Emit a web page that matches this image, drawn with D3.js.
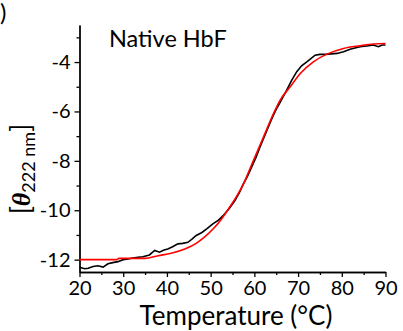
<!DOCTYPE html>
<html>
<head>
<meta charset="utf-8">
<script src="https://cdn.jsdelivr.net/npm/d3@7"></script>
<style>
  body { margin: 0; background: #fff; }
  svg { display: block; font-family: Lato, "Open Sans", sans-serif; }
</style>
</head>
<body>
<svg id="chart" width="403" height="331"></svg>
<script>
const dataTemp = [20, 21.2, 22, 23.1, 24.2, 25.4, 26.5, 27.6, 28.8, 30, 31.1, 32.2, 33.4, 34.5, 36, 37.2, 38.3, 39.2, 40.2, 41.3, 42.5, 43.6, 44.8, 45.8, 46.7, 48, 49.1, 50.5, 51.8, 52.9, 54.3, 55.6, 56.6, 57.5, 58.5, 59.4, 60.4, 61.3, 62.2, 63.2, 64.1, 65.1, 66.3, 67.4, 68.5, 69.7, 70.8, 72, 73.9, 75, 76.2, 77.6, 78.9, 80.4, 81.9, 83, 84.2, 85.7, 87.2, 88.4, 89.2, 90];
const dataTheta = [-12.31, -12.37, -12.35, -12.28, -12.25, -12.3, -12.17, -12.12, -12.08, -12.0, -11.97, -11.93, -11.9, -11.88, -11.81, -11.63, -11.7, -11.62, -11.57, -11.48, -11.36, -11.34, -11.3, -11.16, -11.02, -10.9, -10.75, -10.55, -10.4, -10.21, -9.92, -9.6, -9.28, -8.93, -8.6, -8.25, -7.85, -7.44, -7.05, -6.63, -6.25, -5.88, -5.5, -5.14, -4.75, -4.39, -4.15, -3.99, -3.72, -3.69, -3.69, -3.67, -3.65, -3.58, -3.48, -3.43, -3.38, -3.35, -3.31, -3.38, -3.31, -3.31];

const fitTemp = [20, 24, 28.5, 29, 32, 34.9, 38, 41, 44.1, 46.7, 48.5, 50.6, 52.5, 54.4, 56, 57.5, 59.8, 62.1, 64.4, 65.9, 68.2, 70.5, 73.5, 76.6, 80.4, 84.2, 87.2, 90];
const fitTheta = [-12.0, -12.0, -12.0, -11.95, -11.95, -11.95, -11.84, -11.74, -11.57, -11.34, -11.1, -10.75, -10.35, -9.86, -9.42, -8.93, -7.98, -7.03, -6.08, -5.54, -5.0, -4.46, -3.99, -3.68, -3.45, -3.34, -3.27, -3.25];

const xTicks = [20, 30, 40, 50, 60, 70, 80, 90];
const xMinor = [25, 35, 45, 55, 65, 75, 85];
const yTicks = [-12, -10, -8, -6, -4];
const yMinor = [-11, -9, -7, -5, -3];

const svg = d3.select("#chart");

let xScale = d3.scaleLinear().domain([20, 90]).range([79.5, 385.5]);
let yScale = d3.scaleLinear().domain([-12.5, -2.5]).range([272, 25]);

// axes
svg
  .append("g")
  .attr("transform", "translate(0, 272)")
  .call(d3.axisBottom(xScale).tickValues(xTicks).tickSize(5).tickPadding(4).tickSizeOuter(0))
  .call((g) => g.selectAll("text").attr("font-size", 20).attr("font-family", "Lato").attr("fill", "#000"));
svg
  .append("g")
  .attr("transform", "translate(0, 272)")
  .call(d3.axisBottom(xScale).tickValues(xMinor).tickSize(3).tickFormat("").tickSizeOuter(0));

svg
  .append("g")
  .attr("transform", "translate(79.5, 0)")
  .call(
    d3
      .axisLeft(yScale)
      .tickValues(yTicks)
      .tickSize(5)
      .tickPadding(4)
      .tickSizeOuter(0)
      .tickFormat((d) => String(d))
  )
  .call((g) => g.selectAll("text").attr("font-size", 20).attr("font-family", "Lato").attr("fill", "#000"));
svg
  .append("g")
  .attr("transform", "translate(79.5, 0)")
  .call(d3.axisLeft(yScale).tickValues(yMinor).tickSize(3).tickFormat("").tickSizeOuter(0));

svg.selectAll(".domain, .tick line").attr("stroke", "#000").attr("stroke-width", 1.3);

// curves
let dataLine = d3
  .line()
  .x((d, i) => xScale(dataTemp[i]))
  .y((d) => yScale(d));

svg
  .append("path")
  .datum(dataTheta)
  .attr("d", dataLine)
  .attr("fill", "none")
  .attr("stroke", "#000")
  .attr("stroke-width", 1.6);

let fitLine = d3
  .line()
  .x((d, i) => xScale(fitTemp[i]))
  .y((d) => yScale(d))
  .curve(d3.curveMonotoneX);

svg
  .append("path")
  .datum(fitTheta)
  .attr("d", fitLine)
  .attr("fill", "none")
  .attr("stroke", "#ff0000")
  .attr("stroke-width", 1.6);

// labels
svg
  .append("text")
  .attr("x", 109)
  .attr("y", 47)
  .attr("font-size", 23.5)
  .text("Native HbF");

svg
  .append("text")
  .attr("x", 236)
  .attr("y", 325)
  .attr("font-size", 26)
  .style("text-anchor", "middle")
  .text("Temperature (°C)");

svg
  .append("text")
  .attr("x", 0)
  .attr("y", 21)
  .attr("font-size", 24)
  .text(")");

let yLabel = svg
  .append("text")
  .attr("transform", "translate(30, 169) rotate(-90)")
  .style("text-anchor", "middle")
  .attr("font-size", 26);
yLabel.append("tspan").text("[");
yLabel
  .append("tspan")
  .attr("font-family", "Liberation Serif")
  .attr("font-weight", "bold")
  .attr("font-style", "italic")
  .text("θ");
yLabel.append("tspan").attr("font-size", 18).attr("dy", 5).text("222 nm");
yLabel.append("tspan").attr("dy", -5).text("]");
</script>
</body>
</html>
